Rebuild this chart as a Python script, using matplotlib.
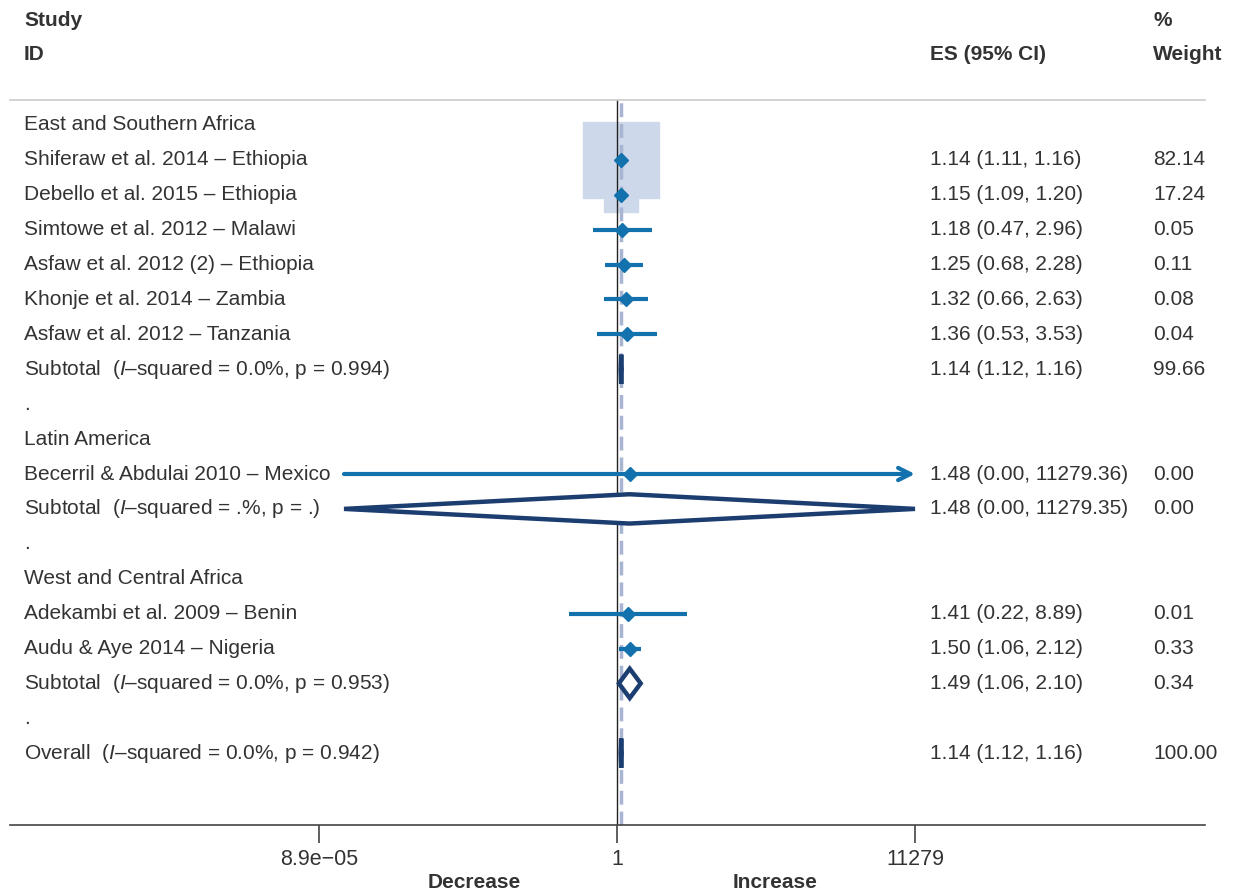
import numpy as np
import matplotlib
matplotlib.use("Agg")
import matplotlib.pyplot as plt
from matplotlib import transforms
from matplotlib.patches import Polygon

plt.rcParams["font.family"] = ["Liberation Sans", "DejaVu Sans"]
plt.rcParams["mathtext.fontset"] = "custom"
plt.rcParams["mathtext.rm"] = "Liberation Sans"
plt.rcParams["mathtext.it"] = "Liberation Sans:italic"

# ---- data ----
groups = ["East and Southern Africa", "Latin America", "West and Central Africa"]
study_names = ["Shiferaw et al. 2014 \u2013 Ethiopia", "Debello et al. 2015 \u2013 Ethiopia",
               "Simtowe et al. 2012 \u2013 Malawi", "Asfaw et al. 2012 (2) \u2013 Ethiopia",
               "Khonje et al. 2014 \u2013 Zambia", "Asfaw et al. 2012 \u2013 Tanzania",
               "Becerril & Abdulai 2010 \u2013 Mexico",
               "Adekambi et al. 2009 \u2013 Benin", "Audu & Aye 2014 \u2013 Nigeria"]
study_group = [0, 0, 0, 0, 0, 0, 1, 2, 2]
study_es = [1.14, 1.15, 1.18, 1.25, 1.32, 1.36, 1.48, 1.41, 1.50]
study_lo = [1.11, 1.09, 0.47, 0.68, 0.66, 0.53, 0.000194, 0.22, 1.06]
study_hi = [1.16, 1.20, 2.96, 2.28, 2.63, 3.53, 11279.36, 8.89, 2.12]
study_w = [82.14, 17.24, 0.05, 0.11, 0.08, 0.04, 0.00, 0.01, 0.33]
sub_es = [1.14, 1.48, 1.49]
sub_lo = [1.12, 0.000194, 1.06]
sub_hi = [1.16, 11279.35, 2.10]
sub_w = [99.66, 0.00, 0.34]
sub_het = ["0.0%, p = 0.994", ".%, p = .", "0.0%, p = 0.953"]
overall_es, overall_lo, overall_hi, overall_w = 1.14, 1.12, 1.16, 100.00
overall_het = "0.0%, p = 0.942"
xticks = [8.9e-05, 1, 11279]
xtick_labels = ["8.9e\u221205", "1", "11279"]

TXT = "#333333"
BLUE = "#1372ae"
NAVY = "#1b3d70"
BOX = "#cdd8ea"
DASH = "#a7b4d2"

W, H = 1234, 896
fig = plt.figure(figsize=(W / 100, H / 100), dpi=100)
ax = fig.add_axes([10 / W, (H - 825) / H, 1195 / W, 725 / H])
ax.set_xscale("log")
ppd = 298 / np.log10(11279)          # pixels per decade
ax.set_xlim(10 ** ((10 - 617) / ppd), 10 ** ((1205 - 617) / ppd))
row_h = 34.9
ax.set_ylim((825 - 125) / row_h, (100 - 125) / row_h)
for s in ["top", "right", "left"]:
    ax.spines[s].set_visible(False)
ax.spines["bottom"].set_color("#444444")
ax.spines["bottom"].set_linewidth(1.2)
ax.set_yticks([])
ax.set_xticks(xticks)
ax.set_xticklabels(xtick_labels)
ax.minorticks_off()
ax.tick_params(axis="x", length=13, width=1.2, color="#444444", labelsize=15.5, labelcolor=TXT, pad=4)

tr = transforms.blended_transform_factory(fig.transFigure, ax.transData)
xl, xe, xw = 24 / W, 930 / W, 1153 / W
fs = 15

# build rows
row = 0
rows_sub = []
for g in range(3):
    ax.text(xl, row, groups[g], transform=tr, fontsize=fs, color=TXT, va="center")
    row += 1
    for i in range(len(study_names)):
        if study_group[i] != g:
            continue
        ax.text(xl, row, study_names[i], transform=tr, fontsize=fs, color=TXT, va="center")
        ax.text(xe, row, f"{study_es[i]:.2f} ({study_lo[i]:.2f}, {study_hi[i]:.2f})",
                transform=tr, fontsize=fs, color=TXT, va="center")
        ax.text(xw, row, f"{study_w[i]:.2f}", transform=tr, fontsize=fs, color=TXT, va="center")
        ms = 54.7 * np.sqrt(study_w[i] / 82.14)
        if ms > 0:
            ax.plot([study_es[i]], [row], marker="s", ms=ms, color=BOX, mec=BOX, zorder=1)
        hi = min(study_hi[i], 11279)
        if study_hi[i] > 11279:
            ax.annotate("", xy=(hi, row), xytext=(study_lo[i], row),
                        arrowprops=dict(arrowstyle="->", lw=3, color=BLUE, mutation_scale=22,
                                        shrinkA=0, shrinkB=0), zorder=3)
        else:
            ax.plot([study_lo[i], hi], [row, row], color=BLUE, lw=3, solid_capstyle="butt", zorder=3)
        ax.plot([study_es[i]], [row], marker="D", ms=7, color=BLUE, mec=BLUE, zorder=4)
        row += 1
    rows_sub.append((row, sub_es[g], sub_lo[g], sub_hi[g], sub_w[g],
                     f"Subtotal  ($\\mathit{{I}}$\u2013squared = {sub_het[g]})"))
    row += 1
    ax.text(xl, row, ".", transform=tr, fontsize=fs, color=TXT, va="center")
    row += 1
rows_sub.append((row, overall_es, overall_lo, overall_hi, overall_w,
                 f"Overall  ($\\mathit{{I}}$\u2013squared = {overall_het})"))

for r, es, lo, hi, w, lab in rows_sub:
    ax.text(xl, r, lab, transform=tr, fontsize=fs, color=TXT, va="center")
    ax.text(xe, r, f"{es:.2f} ({lo:.2f}, {hi:.2f})", transform=tr, fontsize=fs, color=TXT, va="center")
    ax.text(xw, r, f"{w:.2f}", transform=tr, fontsize=fs, color=TXT, va="center")
    hi = min(hi, 11279)
    hh = 0.42
    ax.add_patch(Polygon([(lo, r), (es, r - hh), (hi, r), (es, r + hh)], closed=True,
                         facecolor="white", edgecolor=NAVY, lw=3.2, joinstyle="miter", zorder=3))

# reference lines
ylo, yhi = ax.get_ylim()
ax.plot([1, 1], [ylo, yhi], color="#222222", lw=1, zorder=2)
ax.plot([overall_es, overall_es], [ylo, yhi], color=DASH, lw=2.5, ls=(0, (4, 2)), zorder=2)

# header
fig.text(24 / W, 1 - 20 / H, "Study", fontsize=fs, fontweight="bold", color=TXT, va="center")
fig.text(24 / W, 1 - 55 / H, "ID", fontsize=fs, fontweight="bold", color=TXT, va="center")
fig.text(930 / W, 1 - 55 / H, "ES (95% CI)", fontsize=fs, fontweight="bold", color=TXT, va="center")
fig.text(1153 / W, 1 - 20 / H, "%", fontsize=fs, fontweight="bold", color=TXT, va="center")
fig.text(1153 / W, 1 - 55 / H, "Weight", fontsize=fs, fontweight="bold", color=TXT, va="center")
fig.add_artist(plt.Line2D([10 / W, 1205 / W], [1 - 100 / H, 1 - 100 / H], color="#cccccc", lw=1.2))
fig.text(474 / W, 1 - 882 / H, "Decrease", fontsize=fs, fontweight="bold", color=TXT, va="center", ha="center")
fig.text(775 / W, 1 - 882 / H, "Increase", fontsize=fs, fontweight="bold", color=TXT, va="center", ha="center")

fig.savefig("out.png", dpi=100)
